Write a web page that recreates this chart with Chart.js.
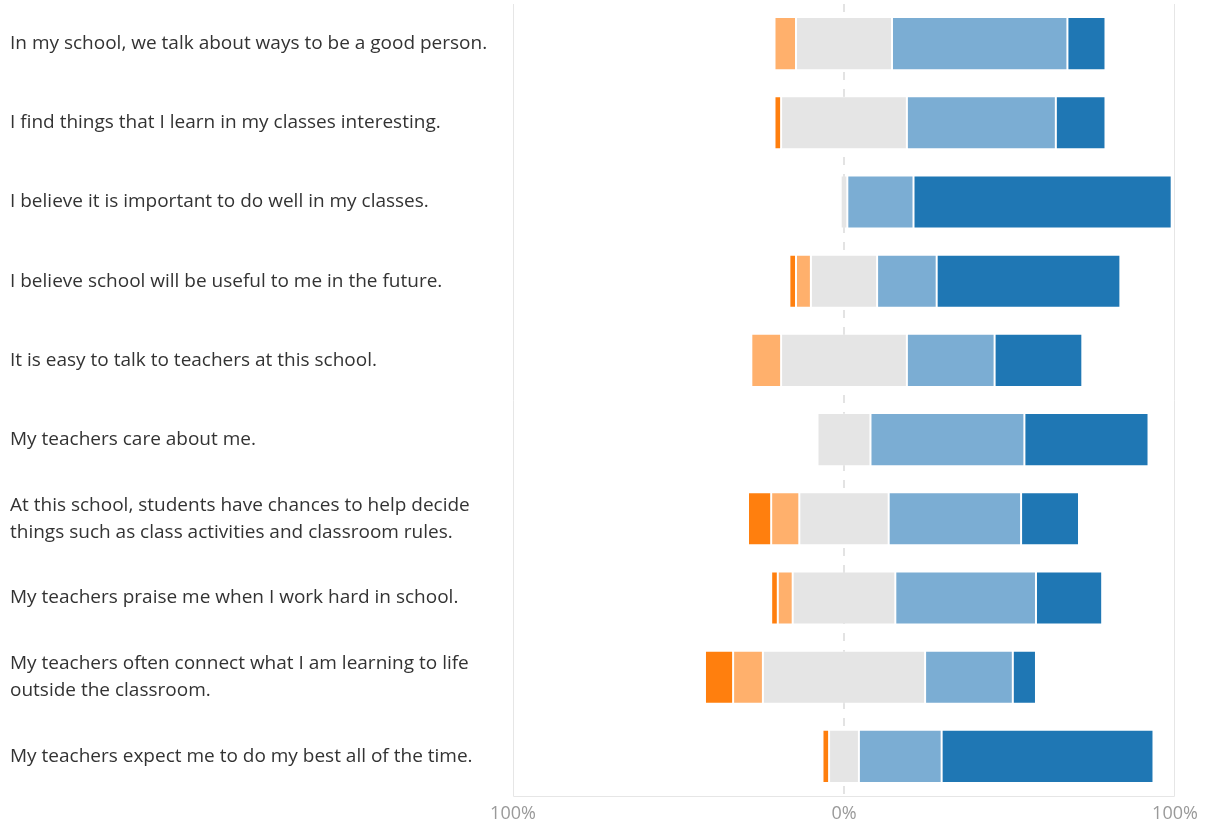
<!DOCTYPE html>
<html>
<head>
<meta charset="utf-8">
<script src="https://cdn.jsdelivr.net/npm/chart.js@4.4.0/dist/chart.umd.min.js"></script>
<style>
  html, body { margin: 0; padding: 0; background: #fff; }
  #wrap { width: 1209px; height: 822px; }
</style>
</head>
<body>
<div id="wrap"><canvas id="likertChart"></canvas></div>
<script>
// Perguntas (de cima para baixo)
const questions = [
    'In my school, we talk about ways to be a good person.',
    'I find things that I learn in my classes interesting.',
    'I believe it is important to do well in my classes.',
    'I believe school will be useful to me in the future.',
    'It is easy to talk to teachers at this school.',
    'My teachers care about me.',
    ['At this school, students have chances to help decide', 'things such as class activities and classroom rules.'],
    'My teachers praise me when I work hard in school.',
    ['My teachers often connect what I am learning to life', 'outside the classroom.'],
    'My teachers expect me to do my best all of the time.',
];

// Percentuais por resposta
const stronglyDisagree = [0, 2, 0, 2, 0, 0, 7, 2, 8.5, 2];
const disagree = [6.5, 0, 0, 4.5, 9, 0, 8.5, 4.5, 9, 0];
const neutral = [29, 38, 2, 20, 38, 16, 27, 31, 49, 9];
const agree = [53, 45, 20, 18, 26.5, 46.5, 40, 42.5, 26.5, 25];
const stronglyAgree = [11.5, 15, 78, 55.5, 26.5, 37.5, 17.5, 20, 7, 64];

const xTicks = [-100, 0, 100];

// Cores
const colors = {
    sd: '#ff7f0e',
    d: '#ffb06c',
    n: '#e5e5e5',
    a: '#7badd3',
    sa: '#1f77b4',
};

const neg = arr => arr.map(v => -v);
const half = arr => arr.map(v => v / 2);

function makeSet(label, data, color, skip) {
    return {
        label: label,
        data: data,
        backgroundColor: color,
        borderColor: 'rgba(255, 255, 255, 0.3)',
        borderWidth: 1,
        borderSkipped: skip,
        categoryPercentage: 1,
        barPercentage: 0.67,
    };
}

// Ordem importa: o neutro fica junto do zero
const datasets = [
    makeSet('Neutral', neg(half(neutral)), colors.n, 'start'),
    makeSet('Neutral ', half(neutral), colors.n, 'start'),
    makeSet('Disagree', neg(disagree), colors.d, false),
    makeSet('Agree', agree, colors.a, false),
    makeSet('Strongly disagree', neg(stronglyDisagree), colors.sd, false),
    makeSet('Strongly agree', stronglyAgree, colors.sa, false),
];

// Moldura e linha tracejada no zero
const framePlugin = {
    id: 'frame',
    beforeDatasetsDraw(chart) {
        const { ctx, chartArea: area, scales } = chart;
        ctx.save();
        ctx.strokeStyle = '#e6e6e6';
        ctx.lineWidth = 1;
        ctx.beginPath();
        ctx.moveTo(area.left + 0.5, area.top);
        ctx.lineTo(area.left + 0.5, area.bottom + 0.5);
        ctx.lineTo(area.right - 0.5, area.bottom + 0.5);
        ctx.lineTo(area.right - 0.5, area.top);
        ctx.stroke();

        const zx = Math.round(scales.x.getPixelForValue(0));
        ctx.strokeStyle = '#e3e3e3';
        ctx.lineWidth = 2;
        ctx.setLineDash([8, 9]);
        ctx.beginPath();
        ctx.moveTo(zx, area.top);
        ctx.lineTo(zx, area.bottom);
        ctx.stroke();
        ctx.restore();
    },
};

const ctx = document.getElementById('likertChart').getContext('2d');

new Chart(ctx, {
    type: 'bar',
    data: { labels: questions, datasets: datasets },
    options: {
        indexAxis: 'y',
        responsive: true,
        maintainAspectRatio: false,
        animation: false,
        layout: { padding: { left: 10, right: 34, top: 4, bottom: 0 } },
        plugins: {
            legend: { display: false },
            tooltip: { enabled: false },
        },
        scales: {
            x: {
                stacked: true,
                min: -100,
                max: 100,
                afterBuildTicks: scale => { scale.ticks = xTicks.map(v => ({ value: v })); },
                afterFit: scale => {
                    scale.height = 26;
                    scale.paddingLeft = 0;
                    scale.paddingRight = 0;
                },
                grid: { display: false, drawTicks: false },
                border: { display: false },
                ticks: {
                    padding: 7,
                    color: '#9a9a9a',
                    font: { family: 'Open Sans', size: 18 },
                    callback: v => Math.abs(v) + '%',
                },
            },
            y: {
                stacked: true,
                afterFit: scale => {
                    scale.width = 503;
                    scale.paddingTop = 0;
                    scale.paddingBottom = 0;
                },
                grid: { display: false, drawTicks: false },
                border: { display: false },
                ticks: {
                    crossAlign: 'far',
                    padding: 0,
                    color: '#333333',
                    font: { family: 'Open Sans', size: 19, lineHeight: 1.4 },
                },
            },
        },
    },
    plugins: [framePlugin],
});
</script>
</body>
</html>
